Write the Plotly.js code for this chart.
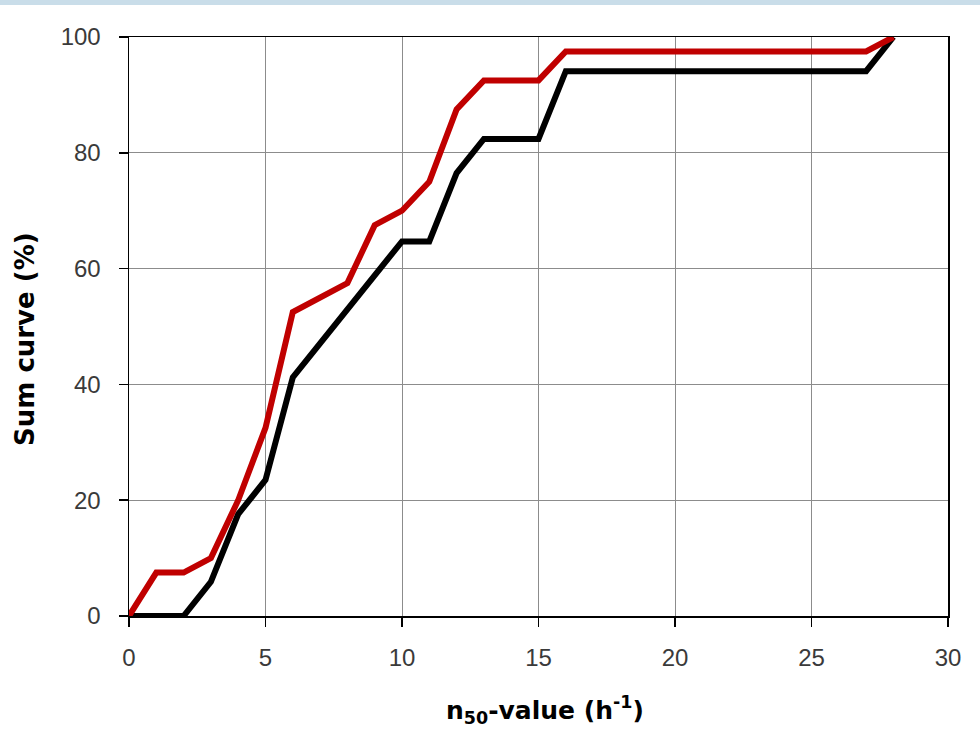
<!DOCTYPE html>
<html>
<head>
<meta charset="utf-8">
<script src="https://cdn.plot.ly/plotly-3.0.1.min.js"></script>
<style>
html,body{margin:0;padding:0;background:#fff;}
#chart{width:980px;height:734px;}
</style>
</head>
<body>
<div id="chart"></div>
<script>
// n50-value (h^-1)
const n50Values = [0,1,2,3,4,5,6,7,8,9,10,11,12,13,14,15,16,17,18,19,20,21,22,23,24,25,26,27,28];
// Sum curve (%) – red series
const sumCurveRed = [0,7.5,7.5,10,20,32.5,52.5,55,57.5,67.5,70,75,87.5,92.5,92.5,92.5,97.5,97.5,97.5,97.5,97.5,97.5,97.5,97.5,97.5,97.5,97.5,97.5,100];
// Sum curve (%) – black series
const sumCurveBlack = [0,0,0,5.9,17.6,23.5,41.2,47.1,52.9,58.8,64.7,64.7,76.5,82.4,82.4,82.4,94.1,94.1,94.1,94.1,94.1,94.1,94.1,94.1,94.1,94.1,94.1,94.1,100];
const xTicks = [0,5,10,15,20,25,30];
const yTicks = [0,20,40,60,80,100];
const xTitle = '<b>n<sub>50</sub>-value (h<sup>-1</sup>)</b>';
const yTitle = '<b>Sum curve (%)</b>';

const tickFont = {size:24, color:'#3a3a3a', family:'Liberation Sans, Arial, sans-serif'};

const traces = [
  {x:n50Values, y:sumCurveBlack, type:'scatter', mode:'lines', line:{color:'#000000', width:6}, showlegend:false},
  {x:n50Values, y:sumCurveRed, type:'scatter', mode:'lines', line:{color:'#c00000', width:6}, showlegend:false}
];

const layout = {
  width:980, height:734,
  margin:{l:129, r:32, t:37, b:118},
  paper_bgcolor:'#ffffff', plot_bgcolor:'#ffffff',
  font:{family:'Liberation Sans, Arial, sans-serif', color:'#222'},
  showlegend:false,
  xaxis:{
    range:[0,30], tickvals:xTicks, ticktext:xTicks.map(String),
    showgrid:true, gridcolor:'#8c8c8c', gridwidth:1,
    zeroline:false, showline:true, linecolor:'#000', linewidth:1.5, mirror:true,
    ticks:'outside', ticklen:9, tickcolor:'#000', tickwidth:1.5,
    ticklabelstandoff:11,
    tickfont:tickFont,
    fixedrange:true
  },
  yaxis:{
    range:[0,100], tickvals:yTicks, ticktext:yTicks.map(String),
    showgrid:true, gridcolor:'#8c8c8c', gridwidth:1,
    zeroline:false, showline:true, linecolor:'#000', linewidth:1.5, mirror:true,
    ticks:'outside', ticklen:9, tickcolor:'#000', tickwidth:1.5,
    ticklabelstandoff:13,
    tickfont:tickFont,
    fixedrange:true
  },
  annotations:[
    {text:xTitle, xref:'paper', yref:'paper', x:(545-129)/819, y:-(710-616)/579, xanchor:'center', yanchor:'middle', showarrow:false, font:{size:25, color:'#000', family:'DejaVu Sans, Liberation Sans, sans-serif'}},
    {text:yTitle, xref:'paper', yref:'paper', x:-(129-25)/819, y:(616-339)/579, xanchor:'center', yanchor:'middle', showarrow:false, textangle:-90, font:{size:26, color:'#000', family:'DejaVu Sans, Liberation Sans, sans-serif'}}
  ],
  shapes:[
    {type:'rect', xref:'paper', yref:'paper', x0:-0.2, x1:1.1, y0:1+32/579, y1:1+40/579, fillcolor:'#c9dde9', line:{width:0}, layer:'below'}
  ]
};

Plotly.newPlot('chart', traces, layout, {displayModeBar:false, staticPlot:true});
</script>
</body>
</html>
